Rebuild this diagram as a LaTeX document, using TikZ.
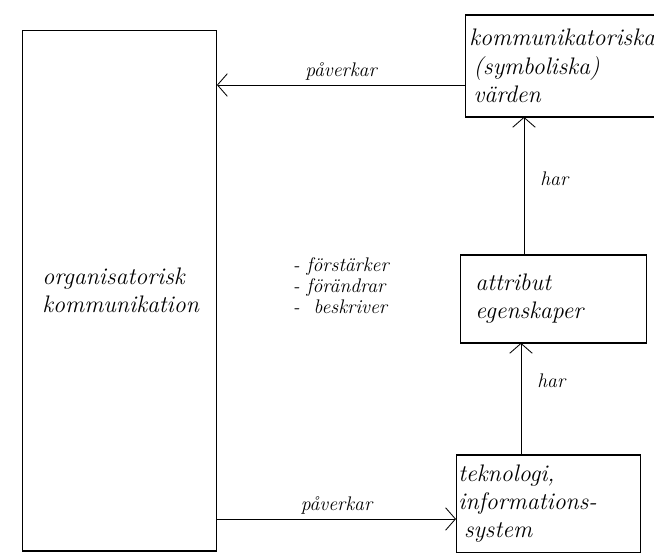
\documentclass[tikz,border=0pt]{standalone}
\usepackage{tikz}
\usetikzlibrary{arrows.meta}
\usetikzlibrary{positioning}

\begin{document}
\begin{tikzpicture}[x=0.025cm,y=-0.025cm,>={Straight Barb[length=7pt,width=16pt]},
	box/.style={draw,line width=0.6pt,rectangle,anchor=north west,align=left,inner ysep=0pt,font=\fontsize{17}{20}\selectfont\itshape},
	lbl/.style={font=\fontsize{14}{15}\selectfont\itshape},
	flow/.style={->,line width=0.6pt}]
			\clip (0,0) rectangle (654,557);
			\node[box,minimum width=4.85cm,minimum height=13cm,inner xsep=0.5cm,text width=3.85cm] (org) at (22,30) {organisatorisk\\kommunikation};
			\node[box,minimum width=6cm,minimum height=2.525cm,inner xsep=0.1cm,text width=5.8cm] (kom) at (465,15) {kommunikatoriska\\\hspace{3pt}(symboliska)\\\hspace{3pt}v\"arden};
			\node[box,minimum width=4.65cm,minimum height=2.175cm,inner xsep=0.375cm,text width=3.9cm] (attr) at (460,255) {attribut\\egenskaper};
			\node[box,minimum width=4.6cm,minimum height=2.425cm,inner xsep=0.05cm,text width=4.5cm] (tek) at (456,455) {teknologi,\\informations-\\\hspace{4pt}system};
			\node[lbl,align=left,anchor=west] (verbs) at (288,286) {- f\"orst\"arker\\- f\"or\"andrar\\-\ \ beskriver};
			% heavier edges of the boxes
			\draw[line width=1.6pt] (org.south west) -- (org.south east);
			\draw[line width=1.2pt] (kom.north west) -- (kom.north east);
			\draw[line width=1.8pt] (kom.south west) -- (kom.south east);
			\draw[line width=1pt] (attr.north west) -- (attr.north east);
			\draw[line width=1.8pt] (attr.south west) -- (attr.south east);
			\draw[line width=0.8pt] (tek.north west) -- (tek.north east);
			% connectors
			\draw[flow] (kom.west |- 0,85) -- node[lbl,above] {p\aa verkar} (org.east |- 0,85);
			\draw[flow] (org.east |- 0,519) -- node[lbl,above] {p\aa verkar} (tek.west |- 0,519);
			\draw[flow] (attr.north -| 524,0) -- node[lbl,right,pos=0.55,xshift=8pt] {har} (kom.south -| 524,0);
			\draw[flow] (tek.north -| 521,0) -- node[lbl,right,pos=0.66,xshift=8pt] {har} (attr.south -| 521,0);
\end{tikzpicture}
\end{document}
